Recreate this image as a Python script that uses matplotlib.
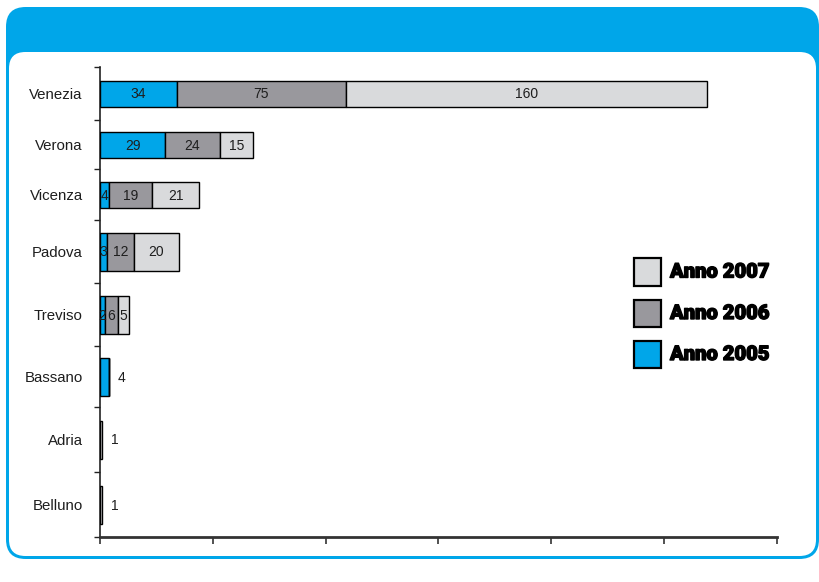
import matplotlib
matplotlib.use("Agg")
import matplotlib.pyplot as plt
from matplotlib.patches import FancyBboxPatch, Rectangle
import matplotlib.patheffects as pe
import numpy as np

# ---------------- data ----------------
cities = ["Venezia", "Verona", "Vicenza", "Padova", "Treviso", "Bassano", "Adria", "Belluno"]
series_names = ["Anno 2005", "Anno 2006", "Anno 2007"]
anno_2005 = [34, 29, 4, 3, 2, 4, 0, 0]
anno_2006 = [75, 24, 19, 12, 6, 0, 0, 0]
anno_2007 = [160, 15, 21, 20, 5, 0, 1, 1]
x_ticks = [0, 50, 100, 150, 200, 250, 300]

# ---------------- layout / style ----------------
W, H = 820, 582
band_h = [53, 49, 51, 63, 63, 61, 65, 65]      # vertical size of each category band (px-like units)
bar_frac = [26, 26, 26, 38, 38, 38, 38, 38]    # bar thickness in same units
colors = ["#00A6E9", "#99989D", "#D9DADC"]
blue = "#00A6E9"
txt = "#1e1e1e"

plt.rcParams['font.family'] = ['Liberation Sans', 'DejaVu Sans']

fig = plt.figure(figsize=(W / 100, H / 100), dpi=100)
fig.patch.set_facecolor("white")

def fx(x):
    return x / W

def fy(y):
    return (H - y) / H

# frame: blue rounded rect + white inner rounded rect
outer = FancyBboxPatch((fx(6), fy(559)), fx(819) - fx(6), fy(7) - fy(559),
                       boxstyle="round,pad=0,rounding_size=0.024",
                       transform=fig.transFigure, facecolor=blue, edgecolor="none",
                       mutation_aspect=W / H, zorder=0)
inner = FancyBboxPatch((fx(9), fy(556)), fx(816) - fx(9), fy(52) - fy(556),
                       boxstyle="round,pad=0,rounding_size=0.02",
                       transform=fig.transFigure, facecolor="white", edgecolor="none",
                       mutation_aspect=W / H, zorder=0.5)
fig.add_artist(outer)
fig.add_artist(inner)

# axes
left_px, right_px, top_px, bot_px = 100, 777, 67, 537
ax = fig.add_axes([fx(left_px), fy(bot_px), fx(right_px) - fx(left_px), fy(top_px) - fy(bot_px)])
ax.set_zorder(2)
ax.set_facecolor("none")
ax.patch.set_alpha(0)

edges = np.concatenate([[0], np.cumsum(band_h)])
centers = (edges[:-1] + edges[1:]) / 2

data = [anno_2005, anno_2006, anno_2007]
lefts = np.zeros(len(cities))
for si, vals in enumerate(data):
    vals = np.array(vals, dtype=float)
    ax.barh(centers, vals, height=bar_frac, left=lefts, color=colors[si],
            edgecolor="black", linewidth=1.0, zorder=3)
    for i, v in enumerate(vals):
        if v <= 0:
            continue
        nonzero = sum(1 for d in data if d[i] > 0)
        if nonzero == 1:
            ax.annotate(f"{int(v)}", xy=(lefts[i] + v, centers[i] + 1), xytext=(6, 0),
                        textcoords="offset points", ha="left", va="center",
                        fontsize=10, color=txt, zorder=4)
        else:
            ax.text(lefts[i] + v / 2, centers[i] + 1, f"{int(v)}", ha="center", va="center",
                    fontsize=10, color=txt, zorder=4)
    lefts = lefts + vals

ax.set_xlim(x_ticks[0], x_ticks[-1])
ax.set_ylim(edges[-1], 0)

ax.set_xticks(x_ticks)
ax.set_xticklabels([])
ax.tick_params(axis="x", direction="out", length=5, width=1.2, color="#333333")
ax.set_yticks(edges)
ax.set_yticklabels([])
ax.tick_params(axis="y", which="major", direction="out", length=4, width=1.0, color="#222222")
ax.set_yticks(centers, minor=True)
ax.set_yticklabels(cities, minor=True)
ax.tick_params(axis="y", which="minor", length=0, pad=12.5, labelsize=10.8, labelcolor=txt)

for s in ["top", "right"]:
    ax.spines[s].set_visible(False)
ax.spines["bottom"].set_color("#333333")
ax.spines["bottom"].set_linewidth(2)
ax.spines["left"].set_color("#222222")
ax.spines["left"].set_linewidth(1.2)

# legend (manual, reversed order: 2007 on top)
leg_y = [272, 313.5, 354.5]
for k, si in enumerate([2, 1, 0]):
    cy = leg_y[k]
    r = Rectangle((fx(634), fy(cy + 13.5)), fx(661) - fx(634), fy(cy - 13.5) - fy(cy + 13.5),
                  transform=fig.transFigure, facecolor=colors[si], edgecolor="black",
                  linewidth=1.6, zorder=3)
    fig.add_artist(r)
    t = fig.text(fx(670), fy(cy), series_names[si], ha="left", va="center",
                 fontsize=14.5, fontweight="black", family=["Roboto", "DejaVu Sans"],
                 color="black", zorder=3)
    t.set_path_effects([pe.withStroke(linewidth=1.0, foreground="black")])

fig.savefig("out.png", dpi=100)
